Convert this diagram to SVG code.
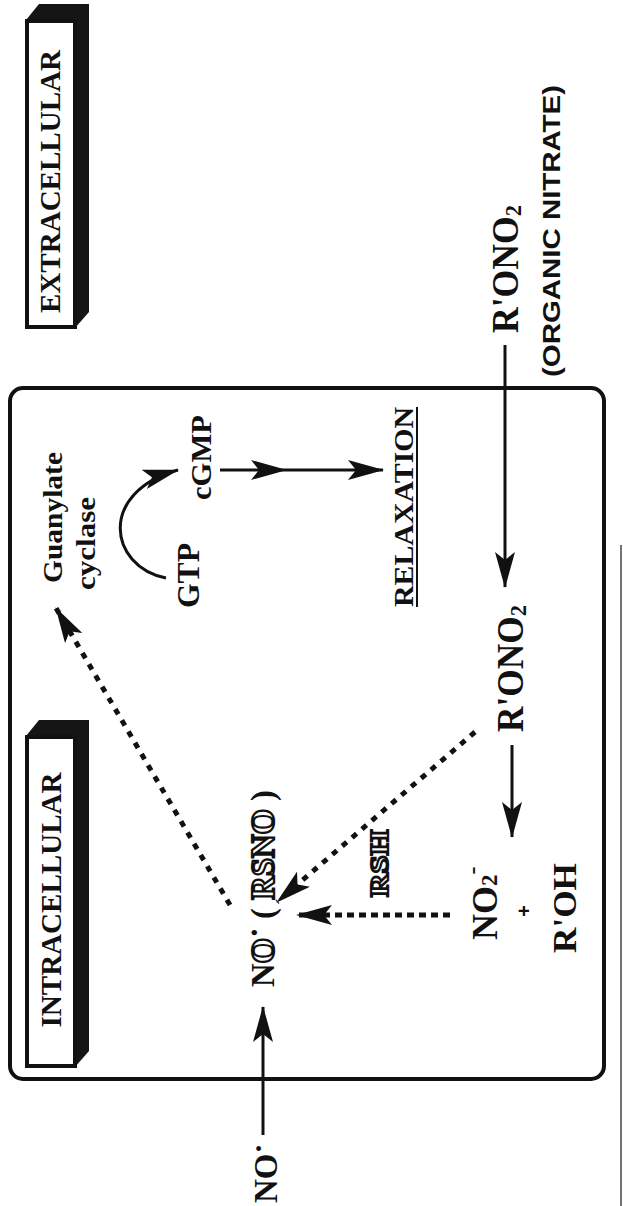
<svg xmlns="http://www.w3.org/2000/svg" width="623" height="1206" viewBox="0 0 623 1206">
  <style>
    .t { font-family: "Liberation Serif", "Times New Roman", serif; font-weight: bold; fill: #111; text-anchor: middle; }
    .s { font-family: "Liberation Sans", Arial, sans-serif; font-weight: bold; fill: #111; text-anchor: middle; }
    .hollow { fill: #fff; stroke: #111; stroke-width: 2.2; paint-order: normal; }
    .solid { fill: none; stroke: #111; stroke-width: 3; }
    .dots { fill: none; stroke: #111; stroke-width: 5; stroke-dasharray: 6 7; }
    .dash { fill: none; stroke: #111; stroke-width: 5; stroke-dasharray: 7 5; }
    .front { fill: #fff; stroke: #111; stroke-width: 4; }
    .depth { fill: #151515; }
  </style>
  <defs>
    <marker id="head" markerUnits="userSpaceOnUse" viewBox="0 0 36 20" markerWidth="36" markerHeight="20" refX="35" refY="10" orient="auto">
      <path d="M0,0 L36,10 L0,20 L8,10 Z" fill="#111"/>
    </marker>
  </defs>

  <rect width="623" height="1206" fill="#fff"/>
  <!-- page edge -->
  <line x1="621" y1="545" x2="621" y2="1206" stroke="#444" stroke-width="1.5"/>

  <!-- cell outline -->
  <g id="cell">
    <rect x="10" y="388" width="594" height="691" rx="13" fill="none" stroke="#111" stroke-width="4"/>
  </g>

  <!-- EXTRACELLULAR label block -->
  <g id="extracellular">
    <polygon class="depth" points="26,20 39,4 89,4 89,312 75,328 75,20"/>
    <rect class="front" x="27" y="21" width="48" height="306"/>
    <text class="t" font-size="30" textLength="263" lengthAdjust="spacingAndGlyphs" transform="translate(60,181.5) rotate(-90)">EXTRACELLULAR</text>
  </g>

  <!-- INTRACELLULAR label block -->
  <g id="intracellular">
    <polygon class="depth" points="26,736 39,720 89,720 89,1051 75,1067 75,736"/>
    <rect class="front" x="27" y="737" width="48" height="329"/>
    <text class="t" font-size="30" textLength="255" lengthAdjust="spacingAndGlyphs" transform="translate(61,900) rotate(-90)">INTRACELLULAR</text>
  </g>

  <!-- connectors -->
  <g id="connectors">
    <!-- external NO into cell -->
    <line class="solid" x1="263" y1="1135" x2="263" y2="1007" marker-end="url(#head)"/>
    <!-- organic nitrate entering cell -->
    <line class="solid" x1="505" y1="345" x2="505" y2="587" marker-end="url(#head)"/>
    <!-- R'ONO2 breakdown -->
    <line class="solid" x1="512" y1="745" x2="512" y2="837" marker-end="url(#head)"/>
    <!-- cGMP to relaxation -->
    <polyline class="solid" points="220,470 286,470 383,470" marker-mid="url(#head)" marker-end="url(#head)"/>
    <!-- GTP to cGMP via guanylate cyclase -->
    <path class="solid" d="M166,578 C108,566 98,492 178,470" marker-end="url(#head)"/>
    <!-- NO activates guanylate cyclase -->
    <line class="dots" x1="230" y1="905" x2="56" y2="608" marker-end="url(#head)"/>
    <!-- R'ONO2 to RSNO -->
    <line class="dots" x1="475" y1="732" x2="277" y2="902" marker-end="url(#head)"/>
    <!-- NO2- to NO -->
    <line class="dash" x1="450" y1="915" x2="297" y2="915" marker-end="url(#head)"/>
  </g>

  <!-- nodes -->
  <g id="no-outside">
    <text class="t" font-size="33" transform="translate(277,1203) rotate(-90)" style="text-anchor:start">NO<tspan dy="-9" font-size="30">·</tspan></text>
  </g>

  <g id="no-rsno">
    <text class="t" font-size="33" textLength="197" lengthAdjust="spacingAndGlyphs" transform="translate(274,888.5) rotate(-90)">N<tspan class="hollow">O</tspan><tspan dy="-9">·</tspan><tspan dy="9"> ( </tspan><tspan class="hollow">RSNO</tspan> )</text>
  </g>

  <g id="rsh">
    <text class="t hollow" font-size="26" textLength="67" lengthAdjust="spacingAndGlyphs" transform="translate(388,863.5) rotate(-90)">RSH</text>
  </g>

  <g id="guanylate-cyclase">
    <text class="t" font-size="28" textLength="131" lengthAdjust="spacingAndGlyphs" transform="translate(62,517.5) rotate(-90)">Guanylate</text>
    <text class="t" font-size="28" textLength="93" lengthAdjust="spacingAndGlyphs" transform="translate(95,543.5) rotate(-90)">cyclase</text>
  </g>

  <g id="gtp">
    <text class="t" font-size="31" textLength="65" lengthAdjust="spacingAndGlyphs" transform="translate(199,575.5) rotate(-90)">GTP</text>
  </g>

  <g id="cgmp">
    <text class="t" font-size="29" textLength="85" lengthAdjust="spacingAndGlyphs" transform="translate(211,457.5) rotate(-90)">cGMP</text>
  </g>

  <g id="relaxation">
    <text class="t" font-size="28" textLength="200" lengthAdjust="spacingAndGlyphs" transform="translate(413,507) rotate(-90)">RELAXATION</text>
    <line x1="417" y1="407" x2="417" y2="607" stroke="#111" stroke-width="2"/>
  </g>

  <g id="ronoz-outside">
    <text class="t" font-size="38" textLength="128" lengthAdjust="spacingAndGlyphs" transform="translate(518,269) rotate(-90)">R'ONO<tspan font-size="24" dy="3">2</tspan></text>
    <text class="s" font-size="23" textLength="292" lengthAdjust="spacingAndGlyphs" transform="translate(560,231) rotate(-90)">(ORGANIC NITRATE)</text>
  </g>

  <g id="ronoz-inside">
    <text class="t" font-size="38" textLength="127" lengthAdjust="spacingAndGlyphs" transform="translate(523,668.5) rotate(-90)">R'ONO<tspan font-size="24" dy="3">2</tspan></text>
  </g>

  <g id="products">
    <text class="t" font-size="36" transform="translate(497,940) rotate(-90)" style="text-anchor:start">NO<tspan font-size="23">2</tspan><tspan font-size="24" dy="-17">-</tspan></text>
    <text class="s" font-size="20" transform="translate(531,911) rotate(-90)">+</text>
    <text class="t" font-size="34" textLength="90" lengthAdjust="spacingAndGlyphs" transform="translate(576,908) rotate(-90)">R'OH</text>
  </g>
</svg>
